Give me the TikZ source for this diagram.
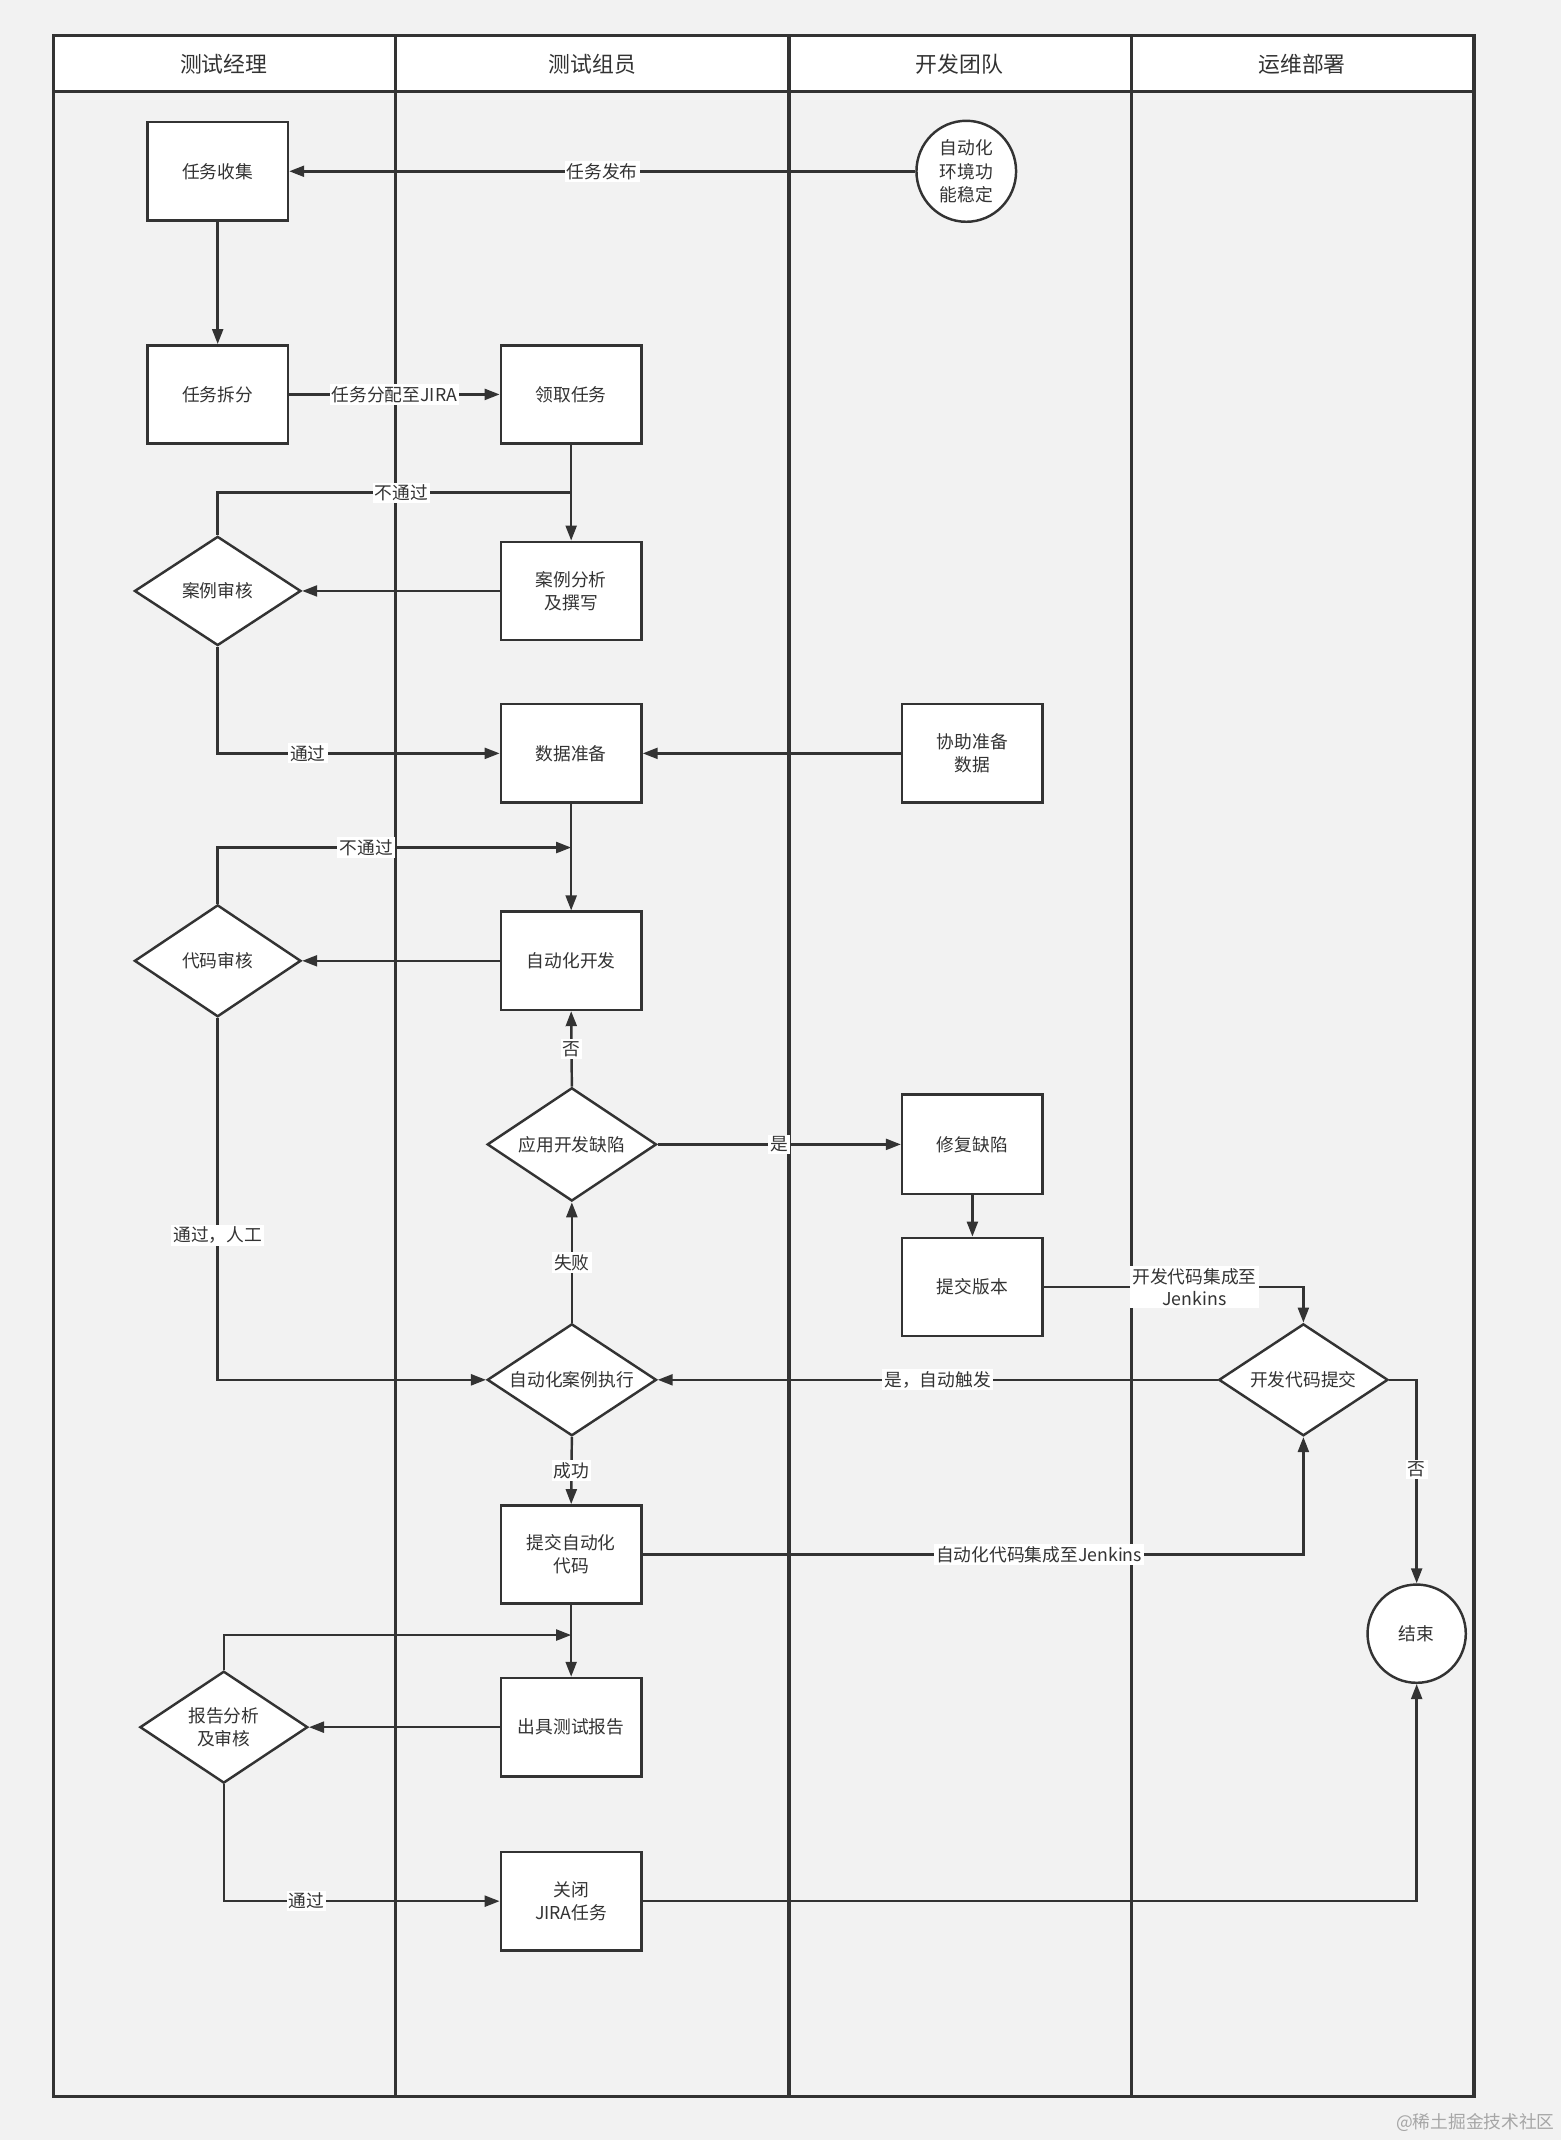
\documentclass[tikz,border=0pt]{standalone}
\usepackage{fontspec}
\setmainfont{Noto Sans CJK SC}
\usetikzlibrary{shapes.geometric,arrows.meta}
\definecolor{ln}{HTML}{333333}
\definecolor{bg}{HTML}{F2F2F2}
\begin{document}
\begin{tikzpicture}[x=1pt,y=-1pt,
  box/.style={draw=ln,line width=1.8pt,fill=white,minimum width=103pt,minimum height=72pt,inner sep=0pt,align=center,font=\fontsize{13}{17}\selectfont,text=ln},
  dia/.style={diamond,draw=ln,line width=1.8pt,fill=white,minimum width=122pt,minimum height=80pt,inner sep=0pt,aspect=1.5,align=center,font=\fontsize{13}{17}\selectfont,text=ln},
  bigdia/.style={dia,minimum width=124pt,minimum height=83pt},
  term/.style={ellipse,draw=ln,line width=1.8pt,fill=white,minimum width=73pt,minimum height=73pt,inner sep=0pt,align=center,font=\fontsize{13}{17}\selectfont,text=ln},
  arr/.style={draw=ln,line width=1.8pt,-{Triangle[length=11pt,width=8pt]}},
  con/.style={draw=ln,line width=1.8pt},
  lab/.style={fill=white,inner sep=1.5pt,font=\fontsize{13}{16}\selectfont,text=ln,align=center},
  hdr/.style={font=\fontsize{16}{18}\selectfont,text=ln},
  frame/.style={draw=ln,line width=2.4pt}
]
\useasboundingbox (0,0) rectangle (1144,1568);
\fill[bg] (0,0) rectangle (1144,1568);
\fill[white] (39,26) rectangle (1080,67);
\draw[frame] (39,26) rectangle (1080,1536);
\draw[frame] (39,67) -- (1080,67);
\draw[frame] (290,26) -- (290,1536);
\draw[frame] (578,26) -- (578,1536);
\draw[frame] (829,26) -- (829,1536);

\node[hdr] (h1) at (164,47) {测试经理};
\node[hdr] (h2) at (434,47) {测试组员};
\node[hdr] (h3) at (703,47) {开发团队};
\node[hdr] (h4) at (954,47) {运维部署};

% nodes
\node[term,minimum height=74pt] (env) at (708,125.5) {自动化\\环境功\\能稳定};
\node[box] (collect) at (159.5,125.5) {任务收集};
\node[box] (split) at (159.5,289) {任务拆分};
\node[box] (claim) at (418.5,289) {领取任务};
\node[box] (analyze) at (418.5,433) {案例分析\\及撰写};
\node[dia] (caserev) at (159.5,433) {案例审核};
\node[box] (data) at (418.5,552) {数据准备};
\node[box] (help) at (712.5,552) {协助准备\\数据};
\node[dia,minimum height=82pt] (coderev) at (159.5,704) {代码审核};
\node[box] (autodev) at (418.5,704) {自动化开发};
\node[bigdia] (defect) at (419,838.5) {应用开发缺陷};
\node[box,minimum height=73pt] (fix) at (712.5,838.5) {修复缺陷};
\node[box] (ver) at (712.5,943) {提交版本};
\node[bigdia,minimum height=82pt] (exec) at (419,1011) {自动化案例执行};
\node[bigdia,minimum height=82pt] (devsub) at (955,1011) {开发代码提交};
\node[box] (subauto) at (418.5,1139) {提交自动化\\代码};
\node[term,minimum width=72pt,minimum height=72pt] (fin) at (1038,1197) {结束};
\node[box] (report) at (418.5,1265.5) {出具测试报告};
\node[dia,minimum width=123pt,minimum height=82pt] (repview) at (164,1265.5) {报告分析\\及审核};
\node[box] (close) at (418.5,1393) {关闭\\JIRA任务};

\coordinate (j1) at (418.5,361);
\coordinate (j2) at (418.5,621);
\coordinate (j3) at (418.5,1198);

% connectors
\draw[arr] (env.west) -- node[lab] {任务发布} (collect.east);
\draw[arr] (collect.south) -- (split.north);
\draw[arr] (split.east) -- node[lab] {任务分配至JIRA} (claim.west);
\draw[arr] (claim.south) -- (analyze.north);
\draw[con] (caserev.north) |- node[lab,pos=0.76] {不通过} (j1);
\draw[arr] (analyze.west) -- (caserev.east);
\draw[arr] (caserev.south) |- node[lab,pos=0.66] {通过} (data.west);
\draw[arr] (help.west) -- (data.east);
\draw[arr] (data.south) -- (autodev.north);
\draw[arr] (coderev.north) |- node[lab,pos=0.71] {不通过} (j2);
\draw[arr] (autodev.west) -- (coderev.east);
\draw[arr] (coderev.south) |- node[lab,pos=0.30] {通过，人工} (exec.west);
\draw[arr] (defect.north) -- node[lab] {否} (autodev.south);
\draw[arr] (defect.east) -- node[lab] {是} (fix.west);
\draw[arr] (exec.north) -- node[lab] {失败} (defect.south);
\draw[arr] (fix.south) -- (ver.north);
\draw[arr] (ver.east) -| node[lab,pos=0.29] {开发代码集成至\\Jenkins} (devsub.north);
\draw[arr] (devsub.west) -- node[lab] {是，自动触发} (exec.east);
\draw[arr] (devsub.east) -| node[lab,pos=0.72] {否} (fin.north);
\draw[arr] (exec.south) -- node[lab] {成功} (subauto.north);
\draw[arr] (subauto.east) -| node[lab,pos=0.30] {自动化代码集成至Jenkins} (devsub.south);
\draw[arr] (subauto.south) -- (report.north);
\draw[arr] (repview.north) |- (j3);
\draw[arr] (report.west) -- (repview.east);
\draw[arr] (repview.south) |- node[lab,pos=0.65] {通过} (close.west);
\draw[arr] (close.east) -| (fin.south);

\node[text=black!35,font=\fontsize{13}{15}\selectfont] (wm) at (1081,1555) {@稀土掘金技术社区};
\end{tikzpicture}
\end{document}
